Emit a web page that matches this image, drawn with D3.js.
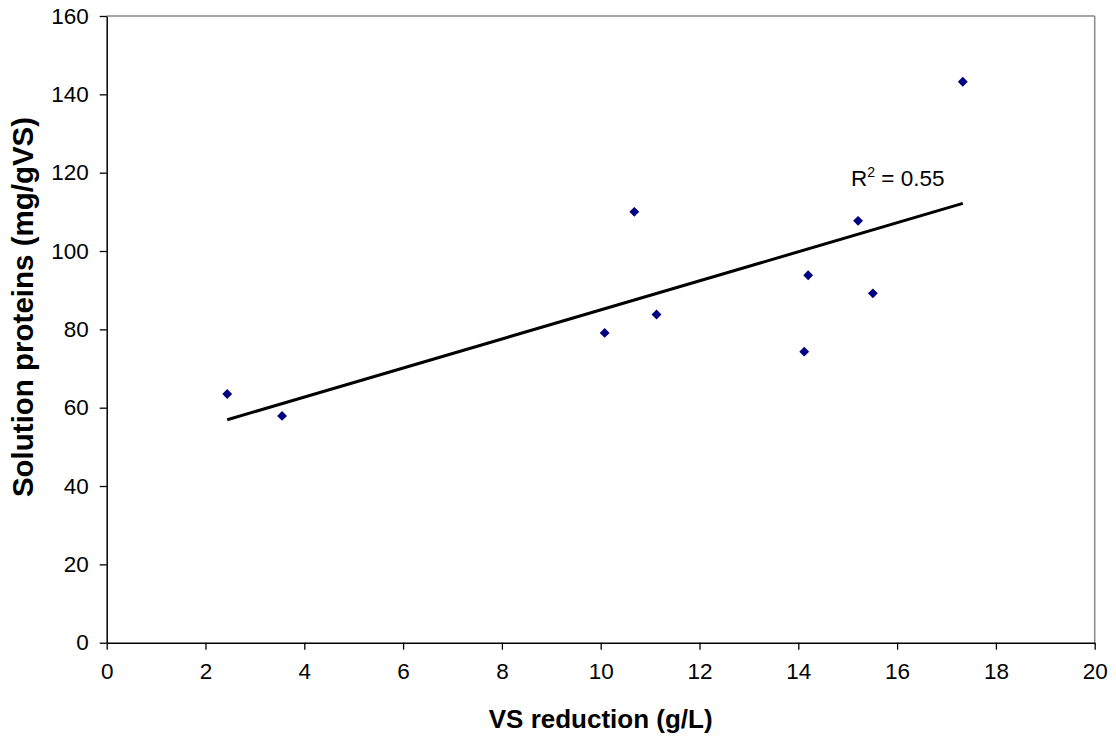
<!DOCTYPE html>
<html>
<head>
<meta charset="utf-8">
<script src="https://cdn.jsdelivr.net/npm/d3@7"></script>
<style>
html,body{margin:0;padding:0;background:#fff;}
text{font-family:Arial,"Liberation Sans",sans-serif;}
</style>
</head>
<body>
<svg id="chart" width="1116" height="740"></svg>
<script>
// Data
const vsReduction = [2.44, 3.55, 10.08, 10.68, 11.13, 14.12, 14.20, 15.21, 15.51, 17.33];
const solutionProteins = [63.5, 57.9, 79.1, 110.0, 83.8, 74.3, 93.8, 107.7, 89.2, 143.2];
const xTicks = [0, 2, 4, 6, 8, 10, 12, 14, 16, 18, 20];
const yTicks = [0, 20, 40, 60, 80, 100, 120, 140, 160];
const xTitle = "VS reduction (g/L)";
const yTitle = "Solution proteins (mg/gVS)";
const r2Label = "0.55";

const svg = d3.select("#chart");
const L = 106.7, R = 1094.7, T = 16, B = 642.7;
const x = d3.scaleLinear().domain([0, 20]).range([L, R]);
const y = d3.scaleLinear().domain([0, 160]).range([B, T]);

// plot border (top/right grey)
svg.append("line").attr("x1", L).attr("x2", R).attr("y1", T).attr("y2", T)
  .attr("stroke", "#888").attr("stroke-width", 1.5);
svg.append("line").attr("x1", R).attr("x2", R).attr("y1", T).attr("y2", B)
  .attr("stroke", "#888").attr("stroke-width", 1.5);

// axes
const xAxis = d3.axisBottom(x).tickValues(xTicks).tickSize(7).tickSizeOuter(0).tickPadding(13);
const yAxis = d3.axisLeft(y).tickValues(yTicks).tickSize(7).tickSizeOuter(0).tickPadding(11);

const gx = svg.append("g").attr("transform", `translate(0,${B})`).call(xAxis);
const gy = svg.append("g").attr("transform", `translate(${L},0)`).call(yAxis);
[gx, gy].forEach(g => {
  g.select(".domain").attr("stroke", "#000").attr("stroke-width", 1.5);
  g.selectAll(".tick line").attr("stroke", "#000").attr("stroke-width", 1.3);
  g.selectAll(".tick text").attr("fill", "#000").style("font-size", "22.5px")
    .style("font-family", "Arial, 'Liberation Sans', sans-serif");
});

// trend line (least squares from data)
const mx = d3.mean(vsReduction), my = d3.mean(solutionProteins);
let sxy = 0, sxx = 0;
vsReduction.forEach((v, i) => { sxy += (v - mx) * (solutionProteins[i] - my); sxx += (v - mx) ** 2; });
const slope = sxy / sxx, intercept = my - slope * mx;
const x0 = d3.min(vsReduction), x1 = d3.max(vsReduction);
svg.append("line")
  .attr("x1", x(x0)).attr("y1", y(intercept + slope * x0))
  .attr("x2", x(x1)).attr("y2", y(intercept + slope * x1))
  .attr("stroke", "#000").attr("stroke-width", 3);

// points (diamonds)
const sym = d3.symbol().type(d3.symbolDiamond2).size(62);
svg.append("g").selectAll("path").data(vsReduction.map((v, i) => [v, solutionProteins[i]]))
  .join("path")
  .attr("d", sym)
  .attr("transform", d => `translate(${x(d[0])},${y(d[1])})`)
  .attr("fill", "#000080");

// R² label
const lbl = svg.append("text").attr("x", 851).attr("y", 186).attr("fill", "#000").style("font-size", "22.5px");
lbl.append("tspan").text("R");
lbl.append("tspan").text("2").style("font-size", "14px").attr("dy", -9);
lbl.append("tspan").text(" = " + r2Label).attr("dy", 9);

// axis titles
svg.append("text").attr("x", (L + R) / 2).attr("y", 728).attr("text-anchor", "middle")
  .style("font-size", "26px").style("font-weight", "bold").text(xTitle);
svg.append("text").attr("transform", `translate(33,307) rotate(-90)`).attr("text-anchor", "middle")
  .style("font-size", "29.5px").style("font-weight", "bold").text(yTitle);
</script>
</body>
</html>
